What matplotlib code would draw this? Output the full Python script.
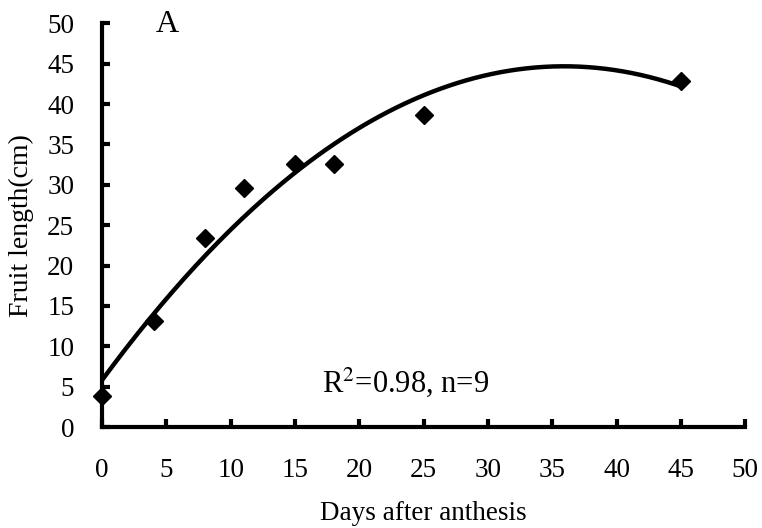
import matplotlib.pyplot as plt
import numpy as np

plt.rcParams['font.family'] = ['Liberation Serif', 'DejaVu Serif']

days = [0, 4, 8, 11, 15, 18, 25, 45]
length = [3.8, 13.2, 23.4, 29.6, 32.6, 32.6, 38.7, 42.9]

# second-order trend line through the measurements
coef = np.polyfit(days, length, 2)
xfit = np.linspace(0, 45, 200)
yfit = np.polyval(coef, xfit)

fig = plt.figure(figsize=(7.62, 5.28), dpi=100)
ax = fig.add_axes([0.134, 0.191, 0.844, 0.765])
ax.plot(xfit, yfit, color='black', lw=3.2)
ax.plot(days, length, 'D', color='black', ms=9, clip_on=False)

ax.set_xlim(0, 50)
ax.set_ylim(0, 50)
ax.set_xticks(range(0, 51, 5))
ax.set_yticks(range(0, 51, 5))
ax.spines['top'].set_visible(False)
ax.spines['right'].set_visible(False)
for s in ('left', 'bottom'):
    ax.spines[s].set_linewidth(3)
ax.tick_params(direction='in', length=6, width=3, labelsize=19.5)
ax.tick_params(axis='x', pad=22)
ax.tick_params(axis='y', pad=20)

ax.set_xlabel('Days after anthesis', fontsize=19.5, va='center')
ax.xaxis.set_label_coords(0.5, -0.213)
ax.set_ylabel('Fruit length(cm)', fontsize=20, va='center')
ax.yaxis.set_label_coords(-0.126, 0.5)
ax.text(5.1, 49.9, 'A', fontsize=23, ha='center', va='center')
ax.text(23.6, 5.6, r'R$^2$=0.98, n=9', fontsize=22, ha='center', va='center',
        math_fontfamily='stix')

fig.savefig('out.png', dpi=100)
